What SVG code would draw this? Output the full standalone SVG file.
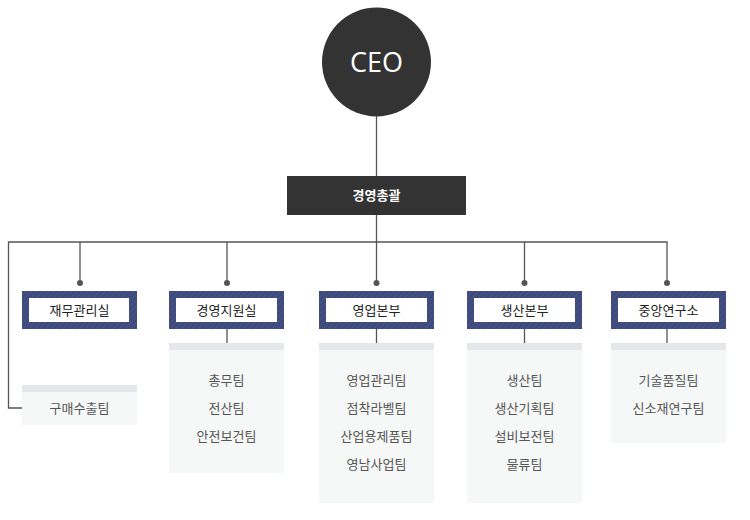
<svg xmlns="http://www.w3.org/2000/svg" width="750" height="520" viewBox="0 0 750 520">
<defs>
<pattern id="hatch" patternUnits="userSpaceOnUse" width="4" height="4" patternTransform="rotate(45)">
<rect width="4" height="4" fill="#3e4a7b"/>
<line x1="0" y1="0" x2="0" y2="4" stroke="#4b5889" stroke-width="1.5"/>
</pattern>
<style>
.ln{stroke:#555;stroke-width:1.3;fill:none}
.dot{fill:#555}
.dept{fill:url(#hatch)}
.inner{fill:#fff}
.dl{font-family:"Noto Sans CJK KR","Noto Sans",sans-serif;font-size:13px;fill:#222;text-anchor:middle}
.sub{fill:#f6f7f7}
.strip{fill:#e5e7eb}
.tm{font-family:"Noto Sans CJK KR","Noto Sans",sans-serif;font-size:13px;fill:#555;text-anchor:middle}
</style>
</defs>
<rect width="750" height="520" fill="#fff"/>
<g id="connectors">
<line class="ln" x1="376.5" y1="116" x2="376.5" y2="176"/>
<line class="ln" x1="376.5" y1="215" x2="376.5" y2="242"/>
<polyline class="ln" points="22,408 8.5,408 8.5,242 667,242 667,283"/>
<line class="ln" x1="80" y1="242" x2="80" y2="283"/>
<line class="ln" x1="227" y1="242" x2="227" y2="283"/>
<line class="ln" x1="376.5" y1="242" x2="376.5" y2="283"/>
<line class="ln" x1="524.5" y1="242" x2="524.5" y2="283"/>
<circle class="dot" cx="80" cy="283" r="3"/>
<circle class="dot" cx="227" cy="283" r="3"/>
<circle class="dot" cx="376.5" cy="283" r="3"/>
<circle class="dot" cx="524.5" cy="283" r="3"/>
<circle class="dot" cx="667" cy="283" r="3"/>
<line class="ln" x1="227" y1="329" x2="227" y2="343"/>
<line class="ln" x1="376.5" y1="329" x2="376.5" y2="343"/>
<line class="ln" x1="524.5" y1="329" x2="524.5" y2="343"/>
<line class="ln" x1="667" y1="329" x2="667" y2="343"/>
</g>
<g id="ceo">
<circle cx="376.5" cy="62" r="54.5" fill="#333"/>
<text x="376.5" y="72" font-family="'Open Sans','Noto Sans',sans-serif" font-size="27" fill="#fff" text-anchor="middle">CEO</text>
</g>
<g id="gm">
<rect x="287" y="176" width="179" height="39" fill="#333"/>
<text x="376.5" y="200" font-family="'Noto Sans CJK KR','Noto Sans',sans-serif" font-size="13" font-weight="bold" fill="#fff" text-anchor="middle">경영총괄</text>
</g>
<g id="d1">
<rect class="dept" x="22" y="291" width="115" height="38"/>
<rect class="inner" x="29" y="298" width="100" height="24"/>
<text class="dl" x="79.5" y="315">재무관리실</text>
</g>
<g id="t1">
<rect class="sub" x="22" y="385" width="115" height="40"/>
<rect class="strip" x="22" y="385" width="115" height="7"/>
<text class="tm" x="79.5" y="413">구매수출팀</text>
</g>
<g id="d2">
<rect class="dept" x="169" y="291" width="115" height="38"/>
<rect class="inner" x="176" y="298" width="101" height="24"/>
<text class="dl" x="226.5" y="315">경영지원실</text>
</g>
<g id="t2">
<rect class="sub" x="169" y="343" width="115" height="130"/>
<rect class="strip" x="169" y="343" width="115" height="7"/>
<text class="tm" x="226.5" y="385">총무팀</text>
<text class="tm" x="226.5" y="413">전산팀</text>
<text class="tm" x="226.5" y="441">안전보건팀</text>
</g>
<g id="d3">
<rect class="dept" x="319" y="291" width="115" height="38"/>
<rect class="inner" x="326" y="298" width="101" height="24"/>
<text class="dl" x="376.5" y="315">영업본부</text>
</g>
<g id="t3">
<rect class="sub" x="319" y="343" width="115" height="160"/>
<rect class="strip" x="319" y="343" width="115" height="7"/>
<text class="tm" x="376.5" y="385">영업관리팀</text>
<text class="tm" x="376.5" y="413">점착라벨팀</text>
<text class="tm" x="376.5" y="441">산업용제품팀</text>
<text class="tm" x="376.5" y="469">영남사업팀</text>
</g>
<g id="d4">
<rect class="dept" x="467" y="291" width="115" height="38"/>
<rect class="inner" x="474" y="298" width="101" height="24"/>
<text class="dl" x="524.5" y="315">생산본부</text>
</g>
<g id="t4">
<rect class="sub" x="467" y="343" width="115" height="160"/>
<rect class="strip" x="467" y="343" width="115" height="7"/>
<text class="tm" x="524.5" y="385">생산팀</text>
<text class="tm" x="524.5" y="413">생산기획팀</text>
<text class="tm" x="524.5" y="441">설비보전팀</text>
<text class="tm" x="524.5" y="469">물류팀</text>
</g>
<g id="d5">
<rect class="dept" x="611" y="291" width="115" height="38"/>
<rect class="inner" x="618" y="298" width="101" height="24"/>
<text class="dl" x="668.5" y="315">중앙연구소</text>
</g>
<g id="t5">
<rect class="sub" x="611" y="343" width="115" height="100"/>
<rect class="strip" x="611" y="343" width="115" height="7"/>
<text class="tm" x="668.5" y="385">기술품질팀</text>
<text class="tm" x="668.5" y="413">신소재연구팀</text>
</g>
</svg>
